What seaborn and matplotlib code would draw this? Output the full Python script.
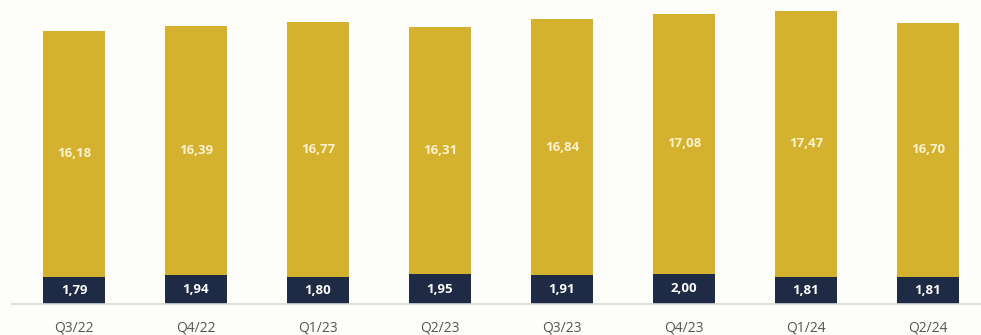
import matplotlib
matplotlib.use("Agg")
import matplotlib.pyplot as plt
import seaborn as sns
import pandas as pd
import numpy as np

quarters = ["Q3/22", "Q4/22", "Q1/23", "Q2/23", "Q3/23", "Q4/23", "Q1/24", "Q2/24"]
bottom_vals = [1.79, 1.94, 1.80, 1.95, 1.91, 2.00, 1.81, 1.81]
top_vals = [16.18, 16.39, 16.77, 16.31, 16.84, 17.08, 17.47, 16.70]

df = pd.DataFrame({"quarter": quarters, "bottom": bottom_vals, "top": top_vals})
df["total"] = df["bottom"] + df["top"]

sns.set_theme(style="white")
plt.rcParams["font.family"] = ["Open Sans", "DejaVu Sans"]

bg = "#fdfdf9"
gold = "#d4b12f"
navy = "#1f2a44"

fig = plt.figure(figsize=(9.81, 3.35), dpi=100, facecolor=bg)
ax = fig.add_axes([0, 31 / 335, 1, 304 / 335])
ax.set_facecolor(bg)

sns.barplot(data=df, x="quarter", y="total", color=gold, width=0.516,
            saturation=1, ax=ax, edgecolor="none")
sns.barplot(data=df, x="quarter", y="bottom", color=navy, width=0.516,
            saturation=1, ax=ax, edgecolor="none")

for i, (b, t) in enumerate(zip(bottom_vals, top_vals)):
    ax.text(i, b + t / 2, f"{t:.2f}".replace(".", ","), ha="center", va="center",
            color="#fbf3d0", fontsize=9.5, fontweight="bold")
    ax.text(i, b / 2, f"{b:.2f}".replace(".", ","), ha="center", va="center",
            color="white", fontsize=9.5, fontweight="bold")

ax.set_xlim(-74 / 122, (981 - 74) / 122)
ax.set_ylim(0, 304 / 15.19)
ax.set_xlabel("")
ax.set_ylabel("")
ax.set_yticks([])
for s in ["top", "right", "left"]:
    ax.spines[s].set_visible(False)
ax.spines["bottom"].set_color("#d8d8d8")
ax.spines["bottom"].set_linewidth(1.2)
ax.spines["bottom"].set_bounds(-62 / 122, (981 - 74) / 122)
ax.tick_params(axis="x", length=0, pad=12, labelsize=10, labelcolor="#555555")

fig.savefig("out.png", dpi=100, facecolor=bg)
